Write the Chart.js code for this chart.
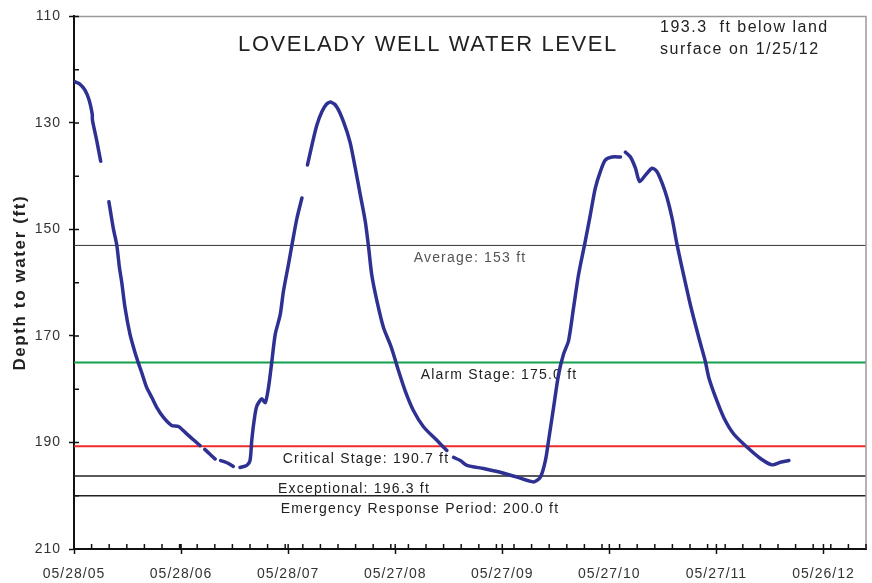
<!DOCTYPE html>
<html>
<head>
<meta charset="utf-8">
<script src="https://cdn.jsdelivr.net/npm/chart.js@4/dist/chart.umd.min.js"></script>
<style>
html,body{margin:0;padding:0;background:#fff;}
#wrap{width:872px;height:583px;position:relative;}
</style>
</head>
<body>
<div id="wrap"><canvas id="c" width="872" height="583"></canvas></div>
<script>
// days since 05/28/05 (null depth = gap in record)
const days = [0,20,38,52,62,63,77,91,
  105,
  119,134,146,155,163,174,191,208,219,231,248,265,282,305,333,356,379,407,430,
  438,
  446,462,481,
  492,
  500,512,525,543,
  554,
  566,589,600,606,614,623,640,652,663,674,686,703,714,731,743,760,777,
  787,
  796,811,828,845,862,876,896,919,941,959,976,993,1004,1015,1033,1055,1078,1089,1106,1129,1157,1192,1237,1271,
  1283,
  1294,1317,1340,1396,1453,1510,1567,1590,1607,1618,1635,1652,1669,1686,1703,1720,1743,1760,1777,1794,1811,1834,1863,
  1872,
  1880,1897,1914,1928,1948,1971,1988,2005,2022,2039,2056,2078,2101,2130,2152,2164,2187,2215,2249,2295,2340,2380,2408,2437];
// depth to water, ft
const depth = [122.2,122.7,123.9,125.8,128.3,129.5,133.2,137.2,
  null,
  144.8,149.8,153.0,157.2,160.0,164.7,169.7,173.1,175.0,176.9,179.7,181.5,183.4,185.3,186.8,187.0,188.1,189.5,190.6,
  null,
  191.3,192.1,193.1,
  null,
  193.4,193.6,193.9,194.5,
  null,
  194.7,194.3,193.4,189.6,185.9,183.2,181.8,182.5,179.7,175.0,169.7,166.0,161.6,156.6,152.9,147.9,144.1,
  null,
  137.9,134.2,130.4,127.9,126.4,126.1,127.0,129.8,133.6,138.5,143.5,148.5,153.2,158.5,163.5,168.4,171.6,173.4,176.5,180.3,184.0,187.1,189.6,191.5,
  null,
  192.8,193.4,194.3,194.9,195.6,196.5,197.4,196.5,193.4,189.6,183.4,177.2,173.4,170.9,164.7,158.5,152.2,147.3,142.3,139.2,137.0,136.4,136.4,
  null,
  135.5,136.4,138.5,141.0,139.8,138.5,139.2,141.3,144.1,147.9,152.9,158.5,164.1,170.3,174.7,177.8,181.5,185.3,188.4,190.9,193.0,194.2,193.7,193.4];

const xTickDays = [0,365,730,1095,1460,1825,2190,2555];
const xTickLabels = ['05/28/05','05/28/06','05/28/07','05/27/08','05/27/09','05/27/10','05/27/11','05/26/12'];
const yTicks = [110,130,150,170,190,210];
const refLevels = [153,175,190.7,196.3,200];
const refNames = ['Average: 153 ft','Alarm Stage: 175.0 ft','Critical Stage: 190.7 ft','Exceptional: 196.3 ft','Emergency Response Period: 200.0 ft'];
const refColors = ['#333333','#12a04a','#ee2b2b','#222222','#222222'];
const refWidths = [1,2,2,1.5,1.5];
const titleText = 'LOVELADY WELL WATER LEVEL';
const noteLines = ['193.3  ft below land','surface on 1/25/12'];
const yTitle = 'Depth to water (ft)';

const X_MIN = 0, X_MAX = 2700, Y_MIN = 110, Y_MAX = 210;
const refLabelX = [470,499,366,354,420];   // label centre positions (px)

const curve = days.map((d,i)=>({x:d,y:depth[i]}));

const refSets = refLevels.map((lv,i)=>({
  data:[{x:X_MIN,y:lv},{x:X_MAX,y:lv}],
  borderColor:refColors[i], borderWidth:refWidths[i], pointRadius:0, fill:false, tension:0
}));

const decor = {
  id:'decor',
  beforeDraw(chart){ chart.ctx.letterSpacing='1px'; },
  beforeDatasetsDraw(chart){
    const ctx=chart.ctx, ys=chart.scales.y;
    ctx.save();
    ctx.letterSpacing='1.2px';
    ctx.textAlign='center'; ctx.textBaseline='middle';
    ctx.font='14px "Liberation Sans", Arial, sans-serif';
    refLevels.forEach((lv,i)=>{
      ctx.fillStyle = i===0 ? '#555' : '#222';
      ctx.fillText(refNames[i], refLabelX[i], ys.getPixelForValue(lv)+13);
    });
    ctx.letterSpacing='1.6px';
    ctx.font='22px "Liberation Sans", Arial, sans-serif';
    ctx.fillStyle='#222';
    ctx.textBaseline='alphabetic';
    ctx.fillText(titleText, 428, 51);
    ctx.letterSpacing='1.5px';
    ctx.font='16px "Liberation Sans", Arial, sans-serif';
    ctx.textAlign='left';
    ctx.fillText(noteLines[0], 660, 32);
    ctx.fillText(noteLines[1], 660, 54);
    ctx.restore();
  },
  afterDraw(chart){
    const ctx=chart.ctx, a=chart.chartArea, xs=chart.scales.x, ys=chart.scales.y;
    ctx.save();
    ctx.letterSpacing='0px';
    ctx.strokeStyle='#9a9a9a'; ctx.lineWidth=1.5;
    ctx.beginPath();
    ctx.moveTo(a.left,a.top); ctx.lineTo(a.right,a.top); ctx.lineTo(a.right,a.bottom);
    ctx.stroke();
    ctx.strokeStyle='#111'; ctx.lineWidth=1.5;
    ctx.beginPath();
    const xs60=[]; for(let d=X_MIN; d<=X_MAX; d+=60) xs60.push(d);
    xs60.concat(xTickDays).forEach(d=>{
      const px=xs.getPixelForValue(d);
      ctx.moveTo(px,a.bottom); ctx.lineTo(px,a.bottom-5);
    });
    for(let v=Y_MIN; v<=Y_MAX; v+=10){
      const py=ys.getPixelForValue(v);
      ctx.moveTo(a.left,py); ctx.lineTo(a.left+5,py);
    }
    ctx.stroke();
    ctx.translate(20,(a.top+a.bottom)/2);
    ctx.rotate(-Math.PI/2);
    ctx.letterSpacing='1.6px';
    ctx.font='bold 17px "Liberation Sans", Arial, sans-serif';
    ctx.fillStyle='#222';
    ctx.textAlign='center'; ctx.textBaseline='middle';
    ctx.fillText(yTitle,0,0);
    ctx.restore();
  }
};

new Chart(document.getElementById('c'),{
  type:'line',
  data:{datasets:[
    {data:curve, borderColor:'#2e3192', borderWidth:3.5, pointRadius:0, tension:0.25, spanGaps:false, fill:false, borderCapStyle:'round', borderJoinStyle:'round'},
    ...refSets
  ]},
  options:{
    responsive:false, animation:false, events:[],
    layout:{padding:{left:0,top:14,right:6,bottom:0}},
    plugins:{legend:{display:false},tooltip:{enabled:false},title:{display:false}},
    scales:{
      x:{type:'linear',min:X_MIN,max:X_MAX,
        afterBuildTicks:s=>{s.ticks=xTickDays.map(v=>({value:v}));},
        afterFit:s=>{s.height=34;},
        ticks:{autoSkip:false,maxRotation:0,minRotation:0,padding:12,color:'#333',
          font:{family:'"Liberation Sans", Arial, sans-serif',size:14},
          callback:(v,i)=>xTickLabels[i]},
        grid:{drawOnChartArea:false,drawTicks:true,tickLength:5,tickColor:'#111',tickWidth:1.5},
        border:{color:'#111',width:2}
      },
      y:{type:'linear',reverse:true,min:Y_MIN,max:Y_MAX,
        afterBuildTicks:s=>{s.ticks=yTicks.map(v=>({value:v}));},
        afterFit:s=>{s.width=74;},
        ticks:{padding:8,color:'#333',font:{family:'"Liberation Sans", Arial, sans-serif',size:14}},
        grid:{drawOnChartArea:false,drawTicks:true,tickLength:5,tickColor:'#111',tickWidth:1.5},
        border:{color:'#111',width:2}
      }
    }
  },
  plugins:[decor]
});
</script>
</body>
</html>
